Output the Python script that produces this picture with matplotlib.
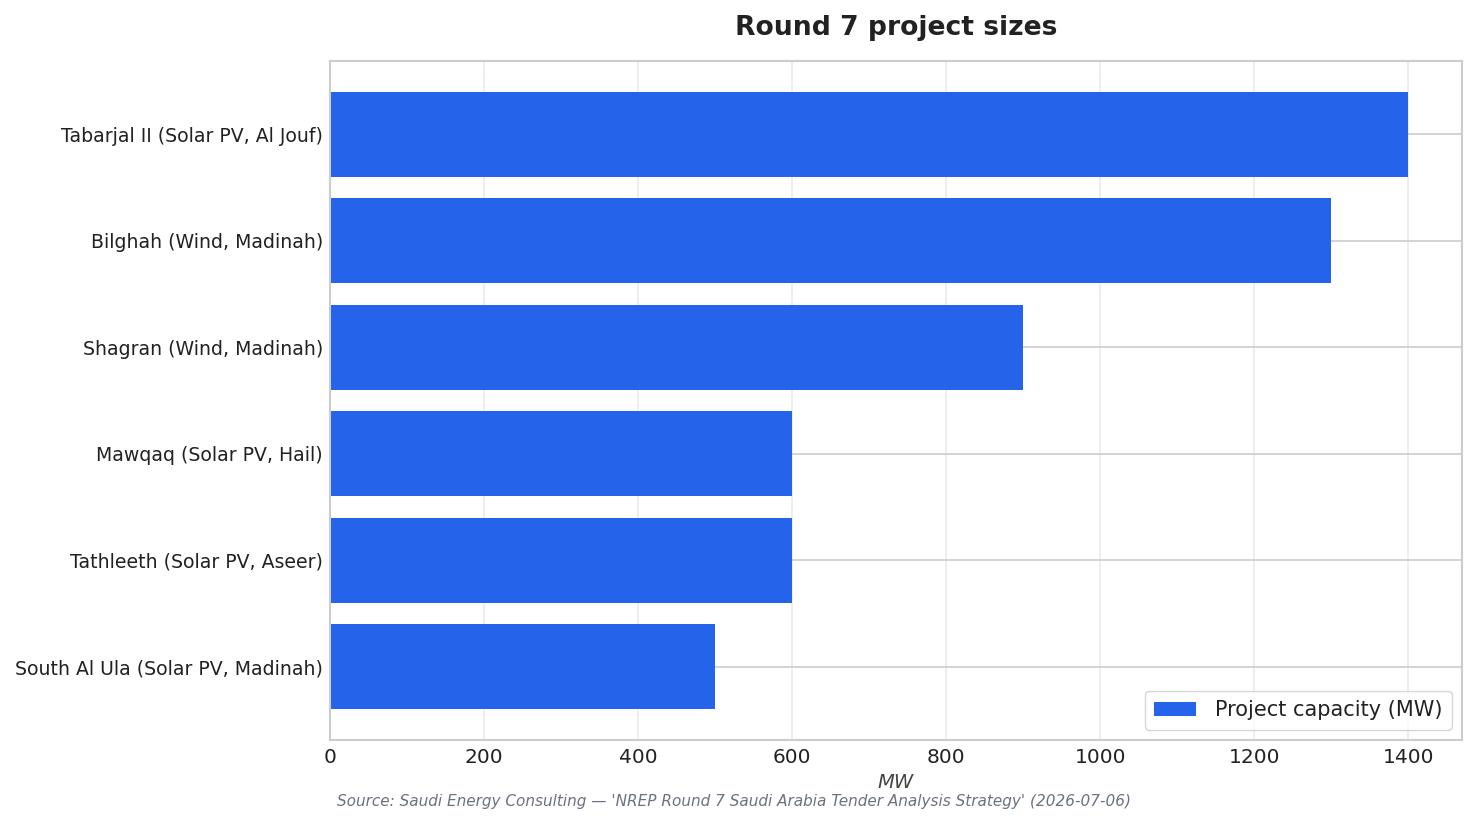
import matplotlib
matplotlib.use("Agg")
import matplotlib.pyplot as plt

# Data
projects = [
    "Tabarjal II (Solar PV, Al Jouf)",
    "Bilghah (Wind, Madinah)",
    "Shagran (Wind, Madinah)",
    "Mawqaq (Solar PV, Hail)",
    "Tathleeth (Solar PV, Aseer)",
    "South Al Ula (Solar PV, Madinah)",
]
capacity_mw = [1400, 1300, 900, 600, 600, 500]

plt.rcParams['font.family'] = ['DejaVu Sans']

fig, ax = plt.subplots(figsize=(14.76, 8.24), dpi=100)
fig.subplots_adjust(left=0.2236, right=0.9905, top=0.926, bottom=0.102)

# plot top-to-bottom in listed order
ypos = list(range(len(projects)))[::-1]
ax.barh(ypos, capacity_mw, height=0.8, color='#2563eb',
        label='Project capacity (MW)', zorder=2)

ax.set_yticks(ypos)
ax.set_yticklabels(projects, fontsize=13.6, color='#222222')
ax.tick_params(axis='x', labelsize=14.5, colors='#222222', length=0, pad=6)
ax.tick_params(axis='y', length=0, pad=5)

ax.grid(axis='y', color='#cccccc', linewidth=1.2, zorder=0)
ax.grid(axis='x', color='#ebebeb', linewidth=1.2, zorder=0)
ax.set_axisbelow(True)
for s in ax.spines.values():
    s.set_color('#cccccc')
    s.set_linewidth(1.5)

ax.set_title('Round 7 project sizes', fontsize=19.2, fontweight='bold',
             color='#222222', pad=19)
ax.set_xlabel('MW', fontsize=14, style='italic', color='#444444', labelpad=4)

ax.legend(loc='lower right', fontsize=15, frameon=True, edgecolor='#cccccc',
          fancybox=True, borderpad=0.45, labelcolor='#222222',
          handletextpad=0.9)

fig.text(0.497, 0.022,
         "Source: Saudi Energy Consulting \u2014 'NREP Round 7 Saudi Arabia Tender Analysis Strategy' (2026-07-06)",
         ha='center', va='baseline', fontsize=11, style='italic', color='#6b7280')

plt.savefig('out.png', dpi=100)
